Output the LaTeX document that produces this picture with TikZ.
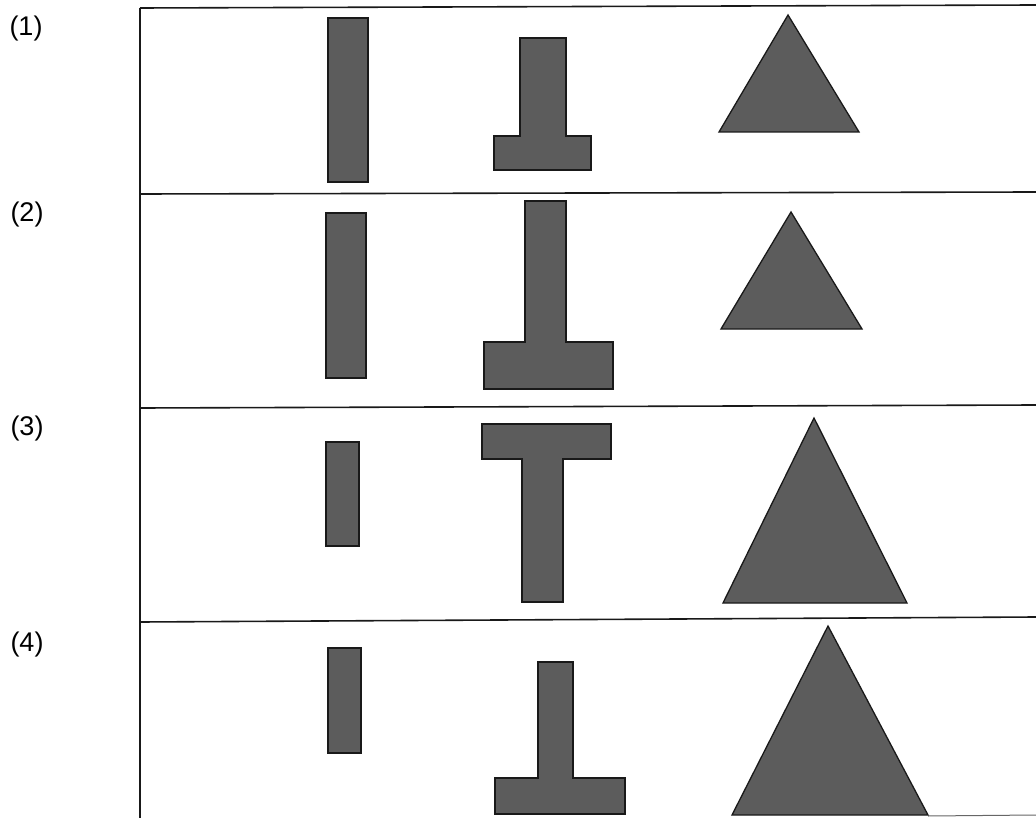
\documentclass[tikz,border=0pt]{standalone}
\usepackage{fontspec}
\setmainfont{Liberation Sans}
\begin{document}
\begin{tikzpicture}[x=1pt,y=-1pt,
  shapefill/.style={fill=black!64,draw=black!90,line width=1.3pt,line join=miter},
  frameline/.style={draw=black!90,line width=1.6pt},
  rowlabel/.style={font=\fontsize{27}{30}\selectfont,inner sep=0pt,anchor=center}]
\useasboundingbox (0,0) rectangle (1036,818);
% frame
\draw[frameline] (140,8) -- (1036,5);
\draw[frameline] (140,818) -- (140,8);
\draw[frameline] (140,194) -- (1036,192);
\draw[frameline] (140,408) -- (1036,405);
\draw[frameline] (140,622) -- (1036,617);
\draw[draw=black!60,line width=1pt] (928,816) -- (1036,815);
% labels
\node[rowlabel] (l1) at (26,29) {(1)};
\node[rowlabel] (l2) at (27,215) {(2)};
\node[rowlabel] (l3) at (27,429) {(3)};
\node[rowlabel] (l4) at (27,645) {(4)};
% row 1
\path[shapefill] (328,18) rectangle (368,182);
\path[shapefill] (520,38) -- (566,38) -- (566,136) -- (591,136) -- (591,170) -- (494,170) -- (494,136) -- (520,136) -- cycle;
\path[shapefill] (719,132) -- (859,132) -- (788,15) -- cycle;
% row 2
\path[shapefill] (326,213) rectangle (366,378);
\path[shapefill] (525,201) -- (566,201) -- (566,342) -- (613,342) -- (613,389) -- (484,389) -- (484,342) -- (525,342) -- cycle;
\path[shapefill] (721,329) -- (862,329) -- (791,212) -- cycle;
% row 3
\path[shapefill] (326,442) rectangle (359,546);
\path[shapefill] (482,424) -- (611,424) -- (611,459) -- (563,459) -- (563,602) -- (522,602) -- (522,459) -- (482,459) -- cycle;
\path[shapefill] (723,603) -- (907,603) -- (814,418) -- cycle;
% row 4
\path[shapefill] (328,648) rectangle (361,753);
\path[shapefill] (538,662) -- (573,662) -- (573,778) -- (625,778) -- (625,814) -- (495,814) -- (495,778) -- (538,778) -- cycle;
\path[shapefill] (732,815) -- (928,815) -- (828,626) -- cycle;
\end{tikzpicture}
\end{document}
